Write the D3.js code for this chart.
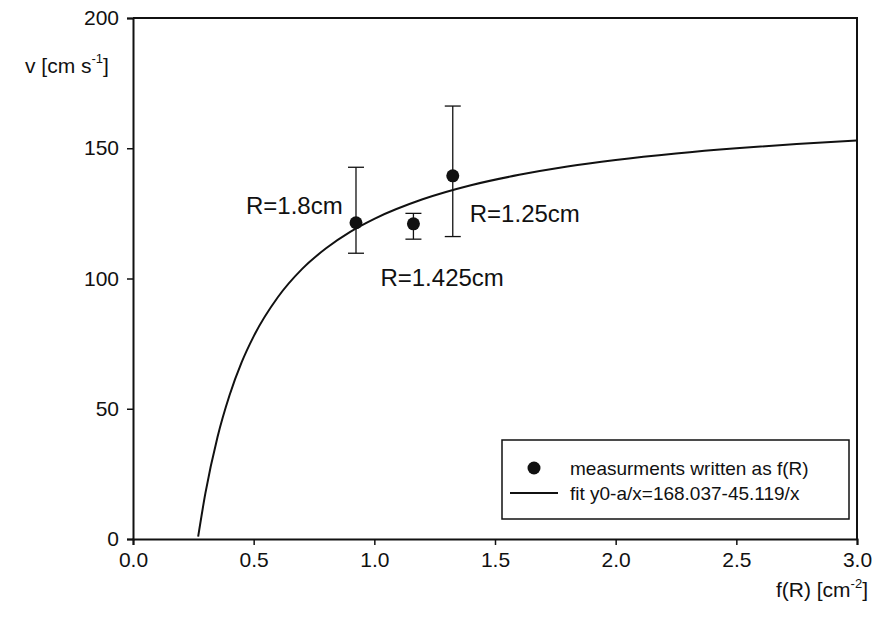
<!DOCTYPE html>
<html>
<head>
<meta charset="utf-8">
<script src="https://cdn.jsdelivr.net/npm/d3@7"></script>
<style>
  body { margin: 0; background: #fff; }
  text { font-family: "Liberation Sans", Arial, sans-serif; fill: #111; }
</style>
</head>
<body>
<div id="chart"></div>
<script>
var width = 873
var height = 623
var margin = { top: 18, bottom: 84, left: 133, right: 16 };

// measurements
var fR = [0.924, 1.162, 1.325];
var vMean = [121.4, 121.0, 139.4];
var vLow = [109.7, 115.1, 116.1];
var vHigh = [142.7, 125.0, 166.2];
var pointLabels = ["R=1.8cm", "R=1.425cm", "R=1.25cm"];

// fit curve
var fitX = [0.27, 0.3, 0.35, 0.4, 0.45, 0.5, 0.6, 0.7, 0.8, 0.9, 1.0, 1.2, 1.4, 1.6, 1.8, 2.0, 2.25, 2.5, 2.75, 3.0];
var fitY = [0.9, 17.6, 39.1, 55.2, 67.8, 77.8, 92.8, 103.6, 111.6, 117.9, 122.9, 130.4, 135.8, 139.8, 143.0, 145.5, 148.0, 150.0, 151.6, 153.0];

var xTicks = [0, 0.5, 1.0, 1.5, 2.0, 2.5, 3.0];
var yTicks = [0, 50, 100, 150, 200];

var svg = d3.select("#chart").append("svg")
    .attr("width", width)
    .attr("height", height);

var x = d3.scaleLinear()
    .domain([0, 3])
    .range([margin.left, width - margin.right]);
var y = d3.scaleLinear()
    .domain([0, 200])
    .range([height - margin.bottom, margin.top]);

// frame (top + right)
svg.append("path")
    .attr("d", "M" + x(0) + "," + y(200) + "H" + x(3) + "V" + y(0))
    .attr("fill", "none")
    .attr("stroke", "#111")
    .attr("stroke-width", 2);

svg.append('g')
    .attr('class', 'x axis')
    .attr('transform', 'translate(0, ' + y(0) + ')')
    .call(d3.axisBottom(x).tickValues(xTicks).tickFormat(d3.format(".1f")).tickSize(6).tickPadding(7));

svg.append('g')
    .attr('class', 'y axis')
    .attr('transform', 'translate(' + x(0) + ', 0)')
    .call(d3.axisLeft(y).tickValues(yTicks).tickSize(6).tickPadding(8));

svg.selectAll(".axis path").attr("stroke", "#111").attr("stroke-width", 2);
svg.selectAll(".axis line").attr("stroke", "#111").attr("stroke-width", 1.5);
svg.selectAll(".axis text")
    .attr("font-family", "Liberation Sans, Arial, sans-serif")
    .attr("font-size", 21)
    .attr("fill", "#111");

// fit line
var line = d3.line()
    .x(function(d) { return x(d[0]); })
    .y(function(d) { return y(d[1]); })
    .curve(d3.curveMonotoneX);

svg.append("path")
    .datum(fitX.map(function(v, i) { return [v, fitY[i]]; }))
    .attr("d", line)
    .attr("fill", "none")
    .attr("stroke", "#111")
    .attr("stroke-width", 2);

// error bars
var pts = fR.map(function(v, i) {
    return { x: v, y: vMean[i], lo: vLow[i], hi: vHigh[i], label: pointLabels[i] };
});

var eb = svg.selectAll(".err").data(pts).enter().append("g").attr("class", "err")
    .attr("stroke", "#111").attr("stroke-width", 1.3);
eb.append("line")
    .attr("x1", function(d) { return x(d.x); })
    .attr("x2", function(d) { return x(d.x); })
    .attr("y1", function(d) { return y(d.lo); })
    .attr("y2", function(d) { return y(d.hi); });
eb.append("line")
    .attr("x1", function(d) { return x(d.x) - 8; })
    .attr("x2", function(d) { return x(d.x) + 8; })
    .attr("y1", function(d) { return y(d.hi); })
    .attr("y2", function(d) { return y(d.hi); });
eb.append("line")
    .attr("x1", function(d) { return x(d.x) - 8; })
    .attr("x2", function(d) { return x(d.x) + 8; })
    .attr("y1", function(d) { return y(d.lo); })
    .attr("y2", function(d) { return y(d.lo); });

svg.selectAll(".dot").data(pts).enter().append("circle")
    .attr("class", "dot")
    .attr("cx", function(d) { return x(d.x); })
    .attr("cy", function(d) { return y(d.y); })
    .attr("r", 6.5)
    .attr("fill", "#111");

// point labels
var labelOffsets = [[-110, -9], [-33, 62], [17, 46]];
svg.selectAll(".plabel").data(pts).enter().append("text")
    .attr("class", "plabel")
    .attr("x", function(d, i) { return x(d.x) + labelOffsets[i][0]; })
    .attr("y", function(d, i) { return y(d.y) + labelOffsets[i][1]; })
    .attr("font-size", 24)
    .text(function(d) { return d.label; });

// axis titles
var yt = svg.append("text").attr("x", 25).attr("y", 73).attr("font-size", 21);
yt.append("tspan").text("v [cm s");
yt.append("tspan").attr("font-size", 13).attr("dy", -10).text("-1");
yt.append("tspan").attr("dy", 10).text("]");

var xt = svg.append("text").attr("x", 868).attr("y", 597)
    .attr("text-anchor", "end").attr("font-size", 21);
xt.append("tspan").text("f(R) [cm");
xt.append("tspan").attr("font-size", 13).attr("dy", -9).text("-2");
xt.append("tspan").attr("dy", 9).text("]");

// legend
var lg = svg.append("g").attr("transform", "translate(502,440)");
lg.append("rect")
    .attr("width", 347).attr("height", 79)
    .attr("fill", "#fff").attr("stroke", "#111").attr("stroke-width", 1.5);
lg.append("circle").attr("cx", 32).attr("cy", 28).attr("r", 6.5).attr("fill", "#111");
lg.append("line").attr("x1", 8).attr("x2", 56).attr("y1", 53).attr("y2", 53)
    .attr("stroke", "#111").attr("stroke-width", 2);
lg.append("text").attr("x", 68).attr("y", 35).attr("font-size", 19)
    .text("measurments written as f(R)");
lg.append("text").attr("x", 68).attr("y", 60).attr("font-size", 19)
    .text("fit y0-a/x=168.037-45.119/x");
</script>
</body>
</html>
